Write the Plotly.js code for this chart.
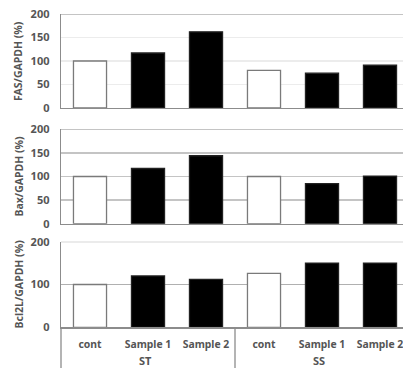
<!DOCTYPE html>
<html>
<head>
<meta charset="utf-8">
<script src="https://cdn.plot.ly/plotly-3.0.1.min.js"></script>
<style>html,body{margin:0;padding:0;background:#fff;}#chart{width:403px;height:368px;}</style>
</head>
<body>
<div id="chart"></div>
<script>
// ---- data ----
const categories = ["cont", "Sample 1", "Sample 2", "cont", "Sample 1", "Sample 2"];
const groups = ["ST", "SS"];
const isControl = [true, false, false, true, false, false];
const fasValues = [100, 117, 162, 80, 74, 91];
const baxValues = [100, 117, 144, 100, 85, 101];
const bcl2lValues = [100, 120, 112, 126, 150, 150];
const panelTitles = ["FAS/GAPDH (%)", "Bax/GAPDH (%)", "Bcl2L/GAPDH (%)"];
const yTicks1 = [0, 50, 100, 150, 200];
const yTicks3 = [0, 100, 200];

// ---- layout helpers ----
const W = 403, H = 368;
const py = p => 1 - p / H;
const xIdx = categories.map((_, i) => i);
const font = "Noto Sans, Open Sans, DejaVu Sans, sans-serif";
const txt = "#555555";

function barTrace(vals, n) {
  return {
    type: "bar",
    x: xIdx, y: vals,
    xaxis: n === 1 ? "x" : "x" + n,
    yaxis: n === 1 ? "y" : "y" + n,
    width: 0.57,
    marker: {
      color: isControl.map(c => c ? "#ffffff" : "#000000"),
      line: {color: isControl.map(c => c ? "#7a7a7a" : "#222222"), width: 1.3}
    },
    hoverinfo: "skip",
    showlegend: false
  };
}

const xRange = [-0.5, -0.5 + (W - 61) / 58];
const xDomain = [61 / W, 1];
function xAxis(anchor, showLabels) {
  return {
    domain: xDomain, range: xRange, anchor: anchor,
    showgrid: false, zeroline: false,
    showline: true, linecolor: "#8c8c8c", linewidth: 1.3,
    ticks: "", showticklabels: showLabels,
    tickmode: "array", tickvals: xIdx, ticktext: categories,
    tickfont: {family: font, size: 10.4, color: txt, weight: "bold"},
    ticklabelstandoff: 7,
    ticklabeloverflow: "allow",
    fixedrange: true
  };
}
function yAxis(anchor, dom, ticks, gridcolor) {
  return {
    domain: dom, range: [0, 200], anchor: anchor,
    tickmode: "array", tickvals: ticks, ticktext: ticks.map(String),
    showgrid: true, gridcolor: gridcolor, gridwidth: 1.3,
    zeroline: false,
    showline: true, linecolor: "#8c8c8c", linewidth: 1.3,
    ticks: "", ticklabelstandoff: 8,
    tickfont: {family: font, size: 11, color: txt, weight: "bold"},
    fixedrange: true
  };
}

const d1 = [py(108), py(14)];
const d2 = [py(223.7), py(129.3)];
const d3 = [py(327.3), py(241.7)];

const shapes = [];
["y", "y2", "y3"].forEach(yr => {
  shapes.push({type: "line", xref: "paper", yref: yr, x0: xDomain[0], x1: 1, y0: 200, y1: 200,
               line: {color: "#b0b0b0", width: 1.3}});
});
// left axis extension & group separator below panel 3
shapes.push({type: "line", xref: "paper", yref: "paper", x0: 61 / W, x1: 61 / W, y0: 0, y1: py(327.3),
             line: {color: "#8c8c8c", width: 1.3}});
shapes.push({type: "line", xref: "x3", yref: "paper", x0: 2.5, x1: 2.5, y0: 0, y1: py(327.3),
             line: {color: "#8c8c8c", width: 1.3}});

const annotations = [];
const panelCenters = [61, 176.5, 284.5];
panelTitles.forEach((t, i) => {
  annotations.push({text: t, xref: "paper", yref: "paper", x: 18 / W, y: py(panelCenters[i]),
    textangle: -90, showarrow: false, xanchor: "center", yanchor: "middle",
    font: {family: font, size: 10.5, color: txt, weight: "bold"}});
});
groups.forEach((g, i) => {
  annotations.push({text: g, xref: "x3", yref: "paper", x: 0.95 + 3 * i, y: -0.004,
    showarrow: false, xanchor: "center", yanchor: "bottom", borderpad: 0,
    font: {family: font, size: 11, color: txt, weight: "bold"}});
});

const layout = {
  width: W, height: H,
  margin: {l: 0, r: 0, t: 0, b: 0},
  paper_bgcolor: "#fff", plot_bgcolor: "#fff",
  bargap: 0,
  xaxis: xAxis("y", false),
  xaxis2: xAxis("y2", false),
  xaxis3: xAxis("y3", true),
  yaxis: yAxis("x", d1, yTicks1, "#ececec"),
  yaxis2: yAxis("x2", d2, yTicks1, "#c4c4c4"),
  yaxis3: yAxis("x3", d3, yTicks3, "#b0b0b0"),
  shapes: shapes,
  annotations: annotations,
  font: {family: font, color: txt}
};

Plotly.newPlot("chart", [barTrace(fasValues, 1), barTrace(baxValues, 2), barTrace(bcl2lValues, 3)], layout,
  {staticPlot: true, displayModeBar: false});
</script>
</body>
</html>
